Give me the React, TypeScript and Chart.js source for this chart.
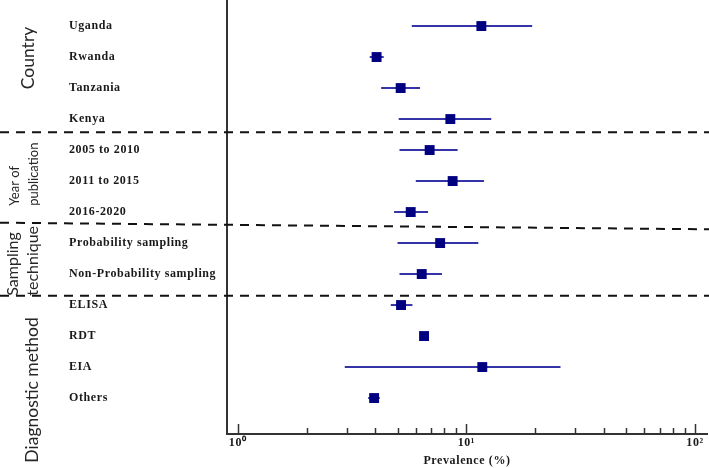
import { useEffect, useRef } from 'react';
import { Chart, registerables } from 'chart.js';

Chart.register(...registerables);

// ---- data ----
const categories = [
  'Uganda',
  'Rwanda',
  'Tanzania',
  'Kenya',
  '2005 to 2010',
  '2011 to 2015',
  '2016-2020',
  'Probability sampling',
  'Non-Probability sampling',
  'ELISA',
  'RDT',
  'EIA',
  'Others',
];
const prevalence = [11.63, 4.05, 5.16, 8.51, 6.91, 8.71, 5.71, 7.68, 6.38, 5.18, 6.53, 11.74, 3.95];
const lowerCI: (number | null)[] = [5.77, 3.78, 4.24, 5.06, 5.1, 6.01, 4.83, 5.0, 5.1, 4.67, null, 2.94, 3.72];
const upperCI: (number | null)[] = [19.4, 4.35, 6.27, 12.85, 9.16, 11.94, 6.8, 11.28, 7.82, 5.81, null, 25.8, 4.18];
const groupNames = [['Country'], ['Year of', 'publication'], ['Sampling', 'technique'], ['Diagnostic method']];
const xTickValues = [1, 2, 3, 4, 5, 6, 7, 8, 9, 10, 20, 30, 40, 50, 60, 70, 80, 90, 100];
const xMajorValues = [1, 10, 100];
const xMajorLabels = ['10\u2070', '10\u00B9', '10\u00B2'];
const xTitle = 'Prevalence (%)';

const SERIF = '"Liberation Serif", "Times New Roman", serif';
const SANS = 'Lato, "Open Sans", sans-serif';

const decor = {
  id: 'decor',
  beforeDraw(chart: any) {
    (chart.ctx as any).letterSpacing = '0.6px';
  },
  beforeDatasetsDraw(chart: any) {
    (chart.ctx as any).letterSpacing = '0px';
  },
  afterDraw(chart: any) {
    const { ctx, scales, chartArea } = chart;
    const x = scales.x;
    const y = scales.y;
    ctx.save();
    (ctx as any).letterSpacing = '0px';
    // inward tick marks
    ctx.strokeStyle = '#333';
    ctx.lineWidth = 1.5;
    x.ticks.forEach((t: any) => {
      const px = Math.round(x.getPixelForValue(t.value)) + 0.5;
      const major = xMajorValues.includes(t.value);
      ctx.beginPath();
      ctx.moveTo(px, chartArea.bottom);
      ctx.lineTo(px, chartArea.bottom - (major ? 10 : 6));
      ctx.stroke();
    });
    // dashed group separators (index units, left/right)
    const seps = [
      [3.428, 3.428],
      [6.344, 6.557],
      [8.699, 8.699],
    ];
    ctx.strokeStyle = '#111';
    ctx.lineWidth = 2;
    ctx.setLineDash([9, 7]);
    seps.forEach(([a, b]) => {
      ctx.beginPath();
      ctx.moveTo(0, y.getPixelForValue(a));
      ctx.lineTo(chart.width, y.getPixelForValue(b));
      ctx.stroke();
    });
    ctx.setLineDash([]);
    // rotated group labels
    const layout = [
      { xs: [28], yIdx: 1.03, align: 'center', size: 17.5 },
      { xs: [15, 34], yIdx: 5.8, align: 'left', size: 13 },
      { xs: [13, 33], yIdx: 8.7, align: 'left', size: 16 },
      { xs: [32], yIdx: 11.74, align: 'center', size: 17.5 },
    ];
    ctx.fillStyle = '#262626';
    ctx.textBaseline = 'middle';
    groupNames.forEach((lines, gi) => {
      const L = layout[gi];
      ctx.font = `${L.size}px ${SANS}`;
      ctx.textAlign = L.align;
      lines.forEach((line, li) => {
        ctx.save();
        ctx.translate(L.xs[li], y.getPixelForValue(L.yIdx));
        ctx.rotate(-Math.PI / 2);
        ctx.fillText(line, 0, 0);
        ctx.restore();
      });
    });
    ctx.restore();
  },
};

const zeroPadding = (s: any) => {
  s.paddingLeft = 0;
  s.paddingRight = 0;
  s.paddingTop = 0;
  s.paddingBottom = 0;
};

export default function App() {
  const ref = useRef<HTMLCanvasElement>(null);
  useEffect(() => {
    const canvas = ref.current!;
    const errorSets: any[] = [];
    categories.forEach((c, i) => {
      if (lowerCI[i] == null || upperCI[i] == null) return;
      errorSets.push({
        label: c + ' CI',
        data: [
          { x: lowerCI[i], y: i },
          { x: upperCI[i], y: i },
        ],
        showLine: true,
        borderColor: '#3434a6',
        borderWidth: 2,
        pointRadius: 0,
        order: 1,
      });
    });
    const chart = new Chart(canvas, {
      type: 'scatter',
      data: {
        datasets: [
          {
            label: 'Prevalence',
            data: prevalence.map((v, i) => ({ x: v, y: i })),
            pointStyle: 'rect',
            pointRadius: 7,
            backgroundColor: '#000080',
            borderColor: '#000080',
            borderWidth: 0,
            order: 0,
          },
          ...errorSets,
        ],
      },
      options: {
        responsive: false,
        animation: false,
        layout: { autoPadding: false, padding: { left: 69, right: 2, top: 0, bottom: 0 } },
        plugins: { legend: { display: false }, tooltip: { enabled: false } },
        scales: {
          x: {
            type: 'logarithmic',
            position: 'bottom',
            min: 0.898,
            max: 112.8,
            afterBuildTicks: (s: any) => {
              s.ticks = xTickValues.map((v) => ({ value: v }));
            },
            afterFit: (s: any) => {
              s.height = 34;
              zeroPadding(s);
            },
            grid: { display: false, drawTicks: false },
            border: { display: true, color: '#333', width: 2 },
            ticks: {
              autoSkip: false,
              maxRotation: 0,
              padding: 2,
              color: '#1a1a1a',
              font: { family: SERIF, size: 12, weight: 'bold' },
              callback: (v: any) => {
                const k = xMajorValues.indexOf(Number(v));
                return k >= 0 ? xMajorLabels[k] : '';
              },
            },
            title: {
              display: true,
              text: xTitle,
              color: '#1a1a1a',
              font: { family: SERIF, size: 12, weight: 'bold' },
              padding: { top: 2, bottom: 0 },
            },
          },
          y: {
            type: 'linear',
            reverse: true,
            min: -0.84,
            max: 13.16,
            afterBuildTicks: (s: any) => {
              s.ticks = categories.map((_, i) => ({ value: i }));
            },
            afterFit: (s: any) => {
              s.width = 158;
              zeroPadding(s);
            },
            grid: { display: false, drawTicks: false },
            border: { display: true, color: '#333', width: 2 },
            ticks: {
              autoSkip: false,
              crossAlign: 'far',
              padding: 0,
              color: '#1a1a1a',
              font: { family: SERIF, size: 12, weight: 'bold' },
              callback: (v: any) => categories[Number(v)] ?? '',
            },
          },
        },
      },
      plugins: [decor],
    } as any);
    return () => chart.destroy();
  }, []);
  return (
    <canvas
      ref={ref}
      width={709}
      height={468}
      style={{ position: 'fixed', left: 0, top: 0, display: 'block', width: 709, height: 468 }}
    />
  );
}
